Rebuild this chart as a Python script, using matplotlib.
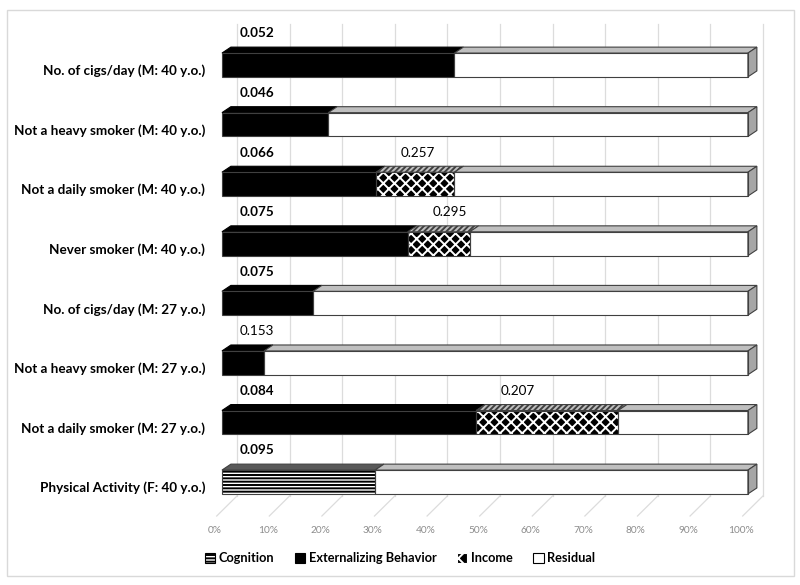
import matplotlib
matplotlib.use('Agg')
import matplotlib.pyplot as plt
from matplotlib.patches import Polygon, Rectangle, Patch

plt.rcParams['font.family'] = ['Lato', 'DejaVu Sans']
plt.rcParams['hatch.linewidth'] = 1.4

# rows from top to bottom
labels = ['No. of cigs/day (M: 40 y.o.)', 'Not a heavy smoker (M: 40 y.o.)',
          'Not a daily smoker (M: 40 y.o.)', 'Never smoker (M: 40 y.o.)',
          'No. of cigs/day (M: 27 y.o.)', 'Not a heavy smoker (M: 27 y.o.)',
          'Not a daily smoker (M: 27 y.o.)', 'Physical Activity (F: 40 y.o.)']
cognition = [0, 0, 0, 0, 0, 0, 0, 29.1]
externalizing = [44.2, 20.2, 29.3, 35.3, 17.3, 8.0, 48.3, 0]
income = [0, 0, 14.9, 11.8, 0, 0, 27.0, 0]
first_val = ['0.052', '0.046', '0.066', '0.075', '0.075', '0.153', '0.084', '0.095']
first_bold = [True, True, True, True, True, False, True, True]
second_val = ['', '', '0.257', '0.295', '', '', '0.207', '']
ticks = list(range(0, 101, 10))

# 3d look
DX, DY = 1.7, 0.1      # bar depth in data units
H = 0.40               # front face height
WALL = 2.85            # back wall shift
EDGE = '#404040'

fig = plt.figure(figsize=(8, 5.85), dpi=100)
ax = fig.add_axes([0, 0, 1, 1])
ax.set_xlim(-42.2, 109.9)
ax.set_ylim(-1.729, 8.091)
ax.axis('off')

# chart border
ax.add_patch(Rectangle((0.009, 0.015), 0.983, 0.968, transform=ax.transAxes,
                       fill=False, edgecolor='#d9d9d9', lw=1))

# gridlines: back wall + floor
for t in ticks:
    ax.plot([t + WALL, t + WALL], [-0.235, 7.69], color='#dcdcdc', lw=0.9, zorder=0)
    ax.plot([t + WALL, t - 1], [-0.235, -0.571], color='#dcdcdc', lw=0.9, zorder=0)
    ax.text(t - 1.3, -0.806, f'{t}%', ha='center', va='center', fontsize=7.3, color='#8c8c8c')

n = len(labels)
for i in range(n):
    y = n - 1 - i
    segs = [(cognition[i], 'cog'), (externalizing[i], 'ext'), (income[i], 'inc')]
    resid = 100 - cognition[i] - externalizing[i] - income[i]
    segs.append((resid, 'res'))
    left = 0
    y0, y1 = y - H / 2, y + H / 2
    for w, kind in segs:
        if w <= 0:
            continue
        a, b = left, left + w
        top = [(a, y1), (b, y1), (b + DX, y1 + DY), (a + DX, y1 + DY)]
        if kind == 'cog':
            ax.add_patch(Rectangle((a, y0), w, H, facecolor='white', edgecolor='black',
                                   hatch='-----', lw=0, zorder=3))
            ax.add_patch(Polygon(top, facecolor='#595959', edgecolor=EDGE, lw=0.8, zorder=3))
        elif kind == 'ext':
            ax.add_patch(Rectangle((a, y0), w, H, facecolor='black', lw=0, zorder=3))
            ax.add_patch(Polygon(top, facecolor='black', edgecolor='black', lw=0.8, zorder=3))
        elif kind == 'inc':
            ax.add_patch(Rectangle((a, y0), w, H, facecolor='black', edgecolor='white',
                                   hatch='xxx', lw=0, zorder=3))
            ax.add_patch(Polygon(top, facecolor='#bfbfbf', edgecolor='#404040',
                                 hatch='//////', lw=0, zorder=3))
            ax.add_patch(Polygon(top, fill=False, edgecolor=EDGE, lw=0.8, zorder=3))
        else:
            ax.add_patch(Rectangle((a, y0), w, H, facecolor='white', lw=0, zorder=3))
            ax.add_patch(Polygon(top, facecolor='#bfbfbf', edgecolor=EDGE, lw=0.8, zorder=3))
        ax.add_patch(Rectangle((a, y0), w, H, fill=False, edgecolor=EDGE, lw=0.8, zorder=4))
        left = b
    # right side face
    side = [(100, y0), (100, y1), (100 + DX, y1 + DY), (100 + DX, y0 + DY)]
    ax.add_patch(Polygon(side, facecolor='#a6a6a6', edgecolor=EDGE, lw=0.8, zorder=3))

    ax.text(-3.2, y - 0.1, labels[i], ha='right', va='center', fontsize=9.7,
            fontweight='bold', color='black')
    ax.text(3.4, y + 0.53, first_val[i], ha='left', va='center', fontsize=9.7,
            fontweight='bold' if first_bold[i] else 'normal', color='black')
    if second_val[i]:
        ax.text(externalizing[i] + 8, y + 0.53, second_val[i], ha='center', va='center',
                fontsize=9.7, color='black')

handles = [Patch(facecolor='white', edgecolor='black', hatch='-----', lw=0.8),
           Patch(facecolor='black', edgecolor='black', lw=0.8),
           Patch(facecolor='black', edgecolor='white', hatch='xx', lw=0.8),
           Patch(facecolor='white', edgecolor='black', lw=0.8)]
fig.legend(handles, ['Cognition', 'Externalizing Behavior', 'Income', 'Residual'],
           loc='center', bbox_to_anchor=(0.5, 0.046), ncol=4, frameon=False,
           prop={'weight': 'bold', 'size': 9.2}, handlelength=0.8, handleheight=0.8,
           handletextpad=0.3, columnspacing=1.6)

fig.savefig('out.png', dpi=100)
